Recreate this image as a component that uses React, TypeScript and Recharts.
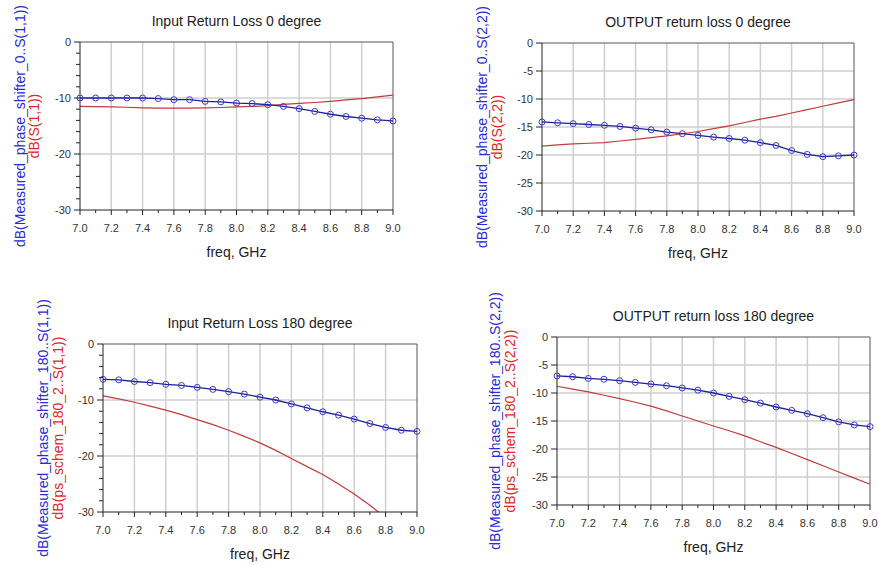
import React from 'react';
import {
  LineChart,
  Line,
  XAxis,
  YAxis,
  CartesianGrid,
  ReferenceLine,
} from 'recharts';

// frequency points, GHz
const freq = [7.0, 7.1, 7.2, 7.3, 7.4, 7.5, 7.6, 7.7, 7.8, 7.9, 8.0, 8.1, 8.2, 8.3, 8.4, 8.5, 8.6, 8.7, 8.8, 8.9, 9.0];

// input return loss, 0 degree
const in0Meas = [-10.0, -10.0, -10.0, -10.0, -10.0, -10.1, -10.3, -10.3, -10.6, -10.7, -10.9, -11.0, -11.2, -11.5, -11.9, -12.4, -12.9, -13.3, -13.6, -13.9, -14.1];
const in0Sim = [-11.5, -11.55, -11.6, -11.65, -11.75, -11.8, -11.8, -11.8, -11.75, -11.7, -11.6, -11.5, -11.35, -11.15, -10.95, -10.8, -10.6, -10.35, -10.1, -9.8, -9.5];

// output return loss, 0 degree
const out0Meas = [-14.1, -14.25, -14.4, -14.55, -14.7, -14.9, -15.2, -15.5, -15.9, -16.2, -16.5, -16.8, -17.05, -17.35, -17.8, -18.3, -19.2, -19.9, -20.3, -20.15, -20.0];
const out0Sim = [-18.4, -18.2, -18.0, -17.9, -17.8, -17.5, -17.2, -16.9, -16.6, -16.2, -15.8, -15.3, -14.8, -14.2, -13.6, -13.1, -12.5, -11.9, -11.3, -10.7, -10.1];

// input return loss, 180 degree
const in180Meas = [-6.3, -6.4, -6.7, -6.9, -7.2, -7.4, -7.75, -8.1, -8.5, -8.95, -9.5, -10.0, -10.7, -11.4, -12.1, -12.7, -13.4, -14.2, -14.9, -15.4, -15.6];
const in180Sim = [-9.25, -9.8, -10.4, -11.1, -11.8, -12.6, -13.5, -14.4, -15.4, -16.5, -17.65, -19.0, -20.45, -21.9, -23.3, -25.0, -26.8, -28.8, -31.0, -33.4, -36.0];

// output return loss, 180 degree
const out180Meas = [-6.95, -7.1, -7.4, -7.55, -7.8, -8.1, -8.4, -8.7, -9.1, -9.5, -10.0, -10.6, -11.2, -11.8, -12.5, -13.1, -13.7, -14.4, -15.15, -15.7, -16.0];
const out180Sim = [-8.8, -9.3, -9.8, -10.4, -11.0, -11.65, -12.35, -13.2, -14.1, -15.0, -15.9, -16.75, -17.65, -18.7, -19.7, -20.8, -21.9, -23.0, -24.1, -25.2, -26.3];

const xMajor = [7.2, 7.4, 7.6, 7.8, 8.0, 8.2, 8.4, 8.6, 8.8];
const yTicks10 = [-30, -28, -26, -24, -22, -20, -18, -16, -14, -12, -10, -8, -6, -4, -2, 0];
const yGrid10 = [-10, -20];
const yTicks5 = [-30, -25, -20, -15, -10, -5, 0];
const yGrid5 = [-5, -10, -15, -20, -25];

const FONT = '"Liberation Sans", Arial, sans-serif';
const YW = 40;
const XH = 30;

const XTick = (props: any) => {
  const { x, y, payload } = props;
  const v = payload.value;
  const major = Math.round(v * 10) % 2 === 0;
  return (
    <g>
      <line x1={x} x2={x} y1={y} y2={y + (major ? 5 : 3)} stroke="#222" />
      {major && (
        <text x={x} y={y + 22} textAnchor="middle" fontSize={11} fill="#333" fontFamily={FONT}>
          {v.toFixed(1)}
        </text>
      )}
    </g>
  );
};

const makeYTick = (step: number) => (props: any) => {
  const { x, y, payload } = props;
  const v = payload.value;
  const major = step === 5 || v % 10 === 0;
  return (
    <g>
      <line x1={x - (major ? 6 : 4)} x2={x} y1={y} y2={y} stroke="#222" />
      {major && (
        <text x={x - 9} y={y + 4} textAnchor="end" fontSize={11} fill="#333" fontFamily={FONT}>
          {v}
        </text>
      )}
    </g>
  );
};

const panels = [
  {
    title: 'Input Return Loss 0 degree',
    blue: 'dB(Measured_phase_shifter_0..S(1,1))',
    red: 'dB(S(1,1))',
    meas: in0Meas, sim: in0Sim, step: 10,
    box: { x: 0, y: 0, w: 440, h: 282 },
    plot: { l: 80, t: 42, r: 393, b: 210 },
    lab: { blue: 20, red: 34 },
  },
  {
    title: 'OUTPUT return loss 0 degree',
    blue: 'dB(Measured_phase_shifter_0..S(2,2))',
    red: 'dB(S(2,2))',
    meas: out0Meas, sim: out0Sim, step: 5,
    box: { x: 440, y: 0, w: 439, h: 282 },
    plot: { l: 542, t: 43, r: 854, b: 211 },
    lab: { blue: 482, red: 497 },
  },
  {
    title: 'Input Return Loss 180 degree',
    blue: 'dB(Measured_phase_shifter_180..S(1,1))',
    red: 'dB(ps_schem_180_2..S(1,1))',
    meas: in180Meas, sim: in180Sim, step: 10,
    box: { x: 0, y: 282, w: 440, h: 283 },
    plot: { l: 103, t: 344, r: 417, b: 512 },
    lab: { blue: 43, red: 58 },
  },
  {
    title: 'OUTPUT return loss 180 degree',
    blue: 'dB(Measured_phase_shifter_180..S(2,2))',
    red: 'dB(ps_schem_180_2..S(2,2))',
    meas: out180Meas, sim: out180Sim, step: 5,
    box: { x: 440, y: 282, w: 439, h: 283 },
    plot: { l: 557, t: 337, r: 870, b: 505 },
    lab: { blue: 495, red: 510 },
  },
];

function Panel({ p }: { p: typeof panels[number] }) {
  const { box, plot } = p;
  const data = freq.map((f, i) => ({ freq: f, meas: p.meas[i], sim: p.sim[i] }));
  const margin = {
    top: plot.t - box.y,
    left: plot.l - box.x - YW,
    right: box.x + box.w - plot.r,
    bottom: box.y + box.h - plot.b - XH,
  };
  const cx = (plot.l + plot.r) / 2;
  const cy = (plot.t + plot.b) / 2;
  const textStyle: React.CSSProperties = {
    position: 'absolute',
    fontFamily: FONT,
    fontSize: 14,
    whiteSpace: 'nowrap',
    lineHeight: '16px',
  };
  return (
    <>
      <div style={{ position: 'absolute', left: box.x, top: box.y }}>
        <LineChart width={box.w} height={box.h} data={data} margin={margin}>
          <CartesianGrid
            stroke="#cfcfcf"
            strokeWidth={1.5}
            verticalValues={xMajor}
            horizontalValues={p.step === 10 ? yGrid10 : yGrid5}
          />
          <XAxis
            dataKey="freq"
            type="number"
            domain={[7, 9]}
            ticks={freq}
            interval={0}
            height={XH}
            axisLine={{ stroke: '#222' }}
            tickLine={false}
            tickSize={0}
            tickMargin={0}
            tick={<XTick />}
          />
          <YAxis
            type="number"
            domain={[-30, 0]}
            allowDataOverflow
            ticks={p.step === 10 ? yTicks10 : yTicks5}
            interval={0}
            width={YW}
            axisLine={{ stroke: '#222' }}
            tickLine={false}
            tickSize={0}
            tickMargin={0}
            tick={makeYTick(p.step)}
          />
          <ReferenceLine y={0} stroke="#555" />
          <ReferenceLine x={9} stroke="#555" />
          <Line
            dataKey="sim"
            stroke="#c23b3b"
            strokeWidth={1.2}
            dot={false}
            isAnimationActive={false}
          />
          <Line
            dataKey="meas"
            stroke="#1f1f99"
            strokeWidth={1.3}
            dot={{ r: 3, stroke: '#3b3bcf', strokeWidth: 1, fill: 'none' }}
            isAnimationActive={false}
          />
        </LineChart>
      </div>
      <div style={{ ...textStyle, left: cx, top: plot.t - 21, transform: 'translate(-50%,-50%)', color: '#222' }}>
        {p.title}
      </div>
      <div style={{ ...textStyle, left: cx, top: plot.b + 42, transform: 'translate(-50%,-50%)', color: '#222' }}>
        freq, GHz
      </div>
      <div style={{ ...textStyle, left: p.lab.blue, top: cy, transform: 'translate(-50%,-50%) rotate(-90deg)', color: '#2a2ad6' }}>
        {p.blue}
      </div>
      <div style={{ ...textStyle, left: p.lab.red, top: cy, transform: 'translate(-50%,-50%) rotate(-90deg)', color: '#e02626' }}>
        {p.red}
      </div>
    </>
  );
}

export default function App() {
  return (
    <div style={{ position: 'absolute', left: 0, top: 0, width: 879, height: 565, background: '#fff', overflow: 'hidden' }}>
      {panels.map((p) => (
        <Panel key={p.title} p={p} />
      ))}
    </div>
  );
}
